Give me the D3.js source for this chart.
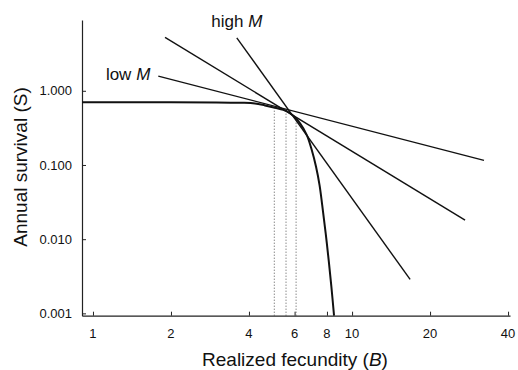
<!DOCTYPE html>
<html>
<head>
<meta charset="utf-8">
<script src="https://cdn.jsdelivr.net/npm/d3@7"></script>
<style>
  html, body { margin: 0; padding: 0; background: #fff; }
  svg { display: block; font-family: "Liberation Sans", Arial, Helvetica, sans-serif; }
</style>
</head>
<body>
<div id="chart"></div>
<script>
// curve S(B)
const curveB = [0.907, 2, 3, 3.7, 4.22, 4.61, 5.04, 5.59, 5.93, 6.30, 6.69, 6.99, 7.26, 7.49, 7.67, 7.99, 8.32, 8.52];
const curveS = [0.70, 0.70, 0.698, 0.69, 0.676, 0.635, 0.59, 0.532, 0.46, 0.364, 0.253, 0.159, 0.0946, 0.0536, 0.0288, 0.00885, 0.00229, 0.00093];

// straight lines (start/end points), shallow -> steep
const lineNames = ['low M', '', 'high M'];
const lineStartB = [1.787, 1.897, 3.59];
const lineStartS = [1.578, 5.24, 5.18];
const lineEndB = [32.3, 27.3, 16.75];
const lineEndS = [0.1153, 0.0181, 0.00287];

// tangent points, marked by dotted drops
const tangentB = [5.01, 5.56, 6.08];
const tangentS = [0.58, 0.52, 0.40];

const xTicks = [1, 2, 4, 6, 8, 10, 20, 40];
const yTicks = [0.001, 0.01, 0.1, 1];

const width = 518, height = 370;
const margin = { left: 82, right: 510, top: 20, bottom: 315.7 };

const svg = d3.select('#chart')
  .append('svg')
  .attr('width', width)
  .attr('height', height);

// Scales
const x = d3.scaleLog().domain([0.907, 40.7]).range([margin.left, margin.right]);
const y = d3.scaleLog().domain([0.00093, 9]).range([margin.bottom, margin.top]);

// Axes (ticks pointing inward)
const xAxis = svg.append('g')
  .attr('transform', `translate(0,${margin.bottom})`)
  .call(d3.axisTop(x).tickValues(xTicks).tickSize(4).tickSizeOuter(0).tickFormat(''));
const yAxis = svg.append('g')
  .attr('transform', `translate(${margin.left},0)`)
  .call(d3.axisRight(y).tickValues(yTicks).tickSize(4).tickSizeOuter(0).tickFormat(''));
[xAxis, yAxis].forEach(a => {
  a.select('.domain').attr('stroke', '#222').attr('stroke-width', 1.2);
  a.selectAll('.tick line').attr('stroke', '#222');
});

// Tick labels
svg.append('g').selectAll('text')
  .data(xTicks)
  .enter()
  .append('text')
  .attr('x', d => x(d))
  .attr('y', 338)
  .attr('text-anchor', 'middle')
  .attr('font-size', 13)
  .attr('fill', '#111')
  .text(d => d);

svg.append('g').selectAll('text')
  .data(yTicks)
  .enter()
  .append('text')
  .attr('x', margin.left - 10)
  .attr('y', d => y(d))
  .attr('dy', '0.35em')
  .attr('text-anchor', 'end')
  .attr('font-size', 13)
  .attr('fill', '#111')
  .text(d => d3.format('.3f')(d));

// Axis titles
const xTitle = svg.append('text')
  .attr('x', 295)
  .attr('y', 365.5)
  .attr('text-anchor', 'middle')
  .attr('font-size', 19)
  .attr('fill', '#111');
xTitle.append('tspan').text('Realized fecundity (');
xTitle.append('tspan').attr('font-style', 'italic').text('B');
xTitle.append('tspan').text(')');

svg.append('text')
  .attr('transform', 'translate(26.5,167) rotate(-90)')
  .attr('text-anchor', 'middle')
  .attr('font-size', 19)
  .attr('fill', '#111')
  .text('Annual survival (S)');

// Dotted drops to the axis
svg.append('g').selectAll('line')
  .data(tangentB)
  .enter()
  .append('line')
  .attr('x1', d => x(d))
  .attr('x2', d => x(d))
  .attr('y1', margin.bottom)
  .attr('y2', (d, i) => y(tangentS[i]))
  .attr('stroke', '#555')
  .attr('stroke-width', 1)
  .attr('stroke-dasharray', '1,2');

// Straight lines
svg.append('g').selectAll('line')
  .data(lineStartB)
  .enter()
  .append('line')
  .attr('x1', d => x(d))
  .attr('y1', (d, i) => y(lineStartS[i]))
  .attr('x2', (d, i) => x(lineEndB[i]))
  .attr('y2', (d, i) => y(lineEndS[i]))
  .attr('stroke', '#111')
  .attr('stroke-width', 1.4);

// Curve
const curveData = curveB.map((b, i) => ({ b, s: curveS[i] }));
const line = d3.line()
  .x(d => x(d.b))
  .y(d => y(d.s))
  .curve(d3.curveCatmullRom.alpha(0.5));

svg.append('path')
  .datum(curveData)
  .attr('fill', 'none')
  .attr('stroke', '#111')
  .attr('stroke-width', 2)
  .attr('d', line);

// Line labels
const labLow = svg.append('text')
  .attr('x', x(lineStartB[0]) - 8)
  .attr('y', y(lineStartS[0]) + 4)
  .attr('text-anchor', 'end')
  .attr('font-size', 17)
  .attr('fill', '#111');
labLow.append('tspan').text('low ');
labLow.append('tspan').attr('font-style', 'italic').text('M');

const labHigh = svg.append('text')
  .attr('x', x(lineStartB[2]))
  .attr('y', y(lineStartS[2]) - 11)
  .attr('text-anchor', 'middle')
  .attr('font-size', 17)
  .attr('fill', '#111');
labHigh.append('tspan').text('high ');
labHigh.append('tspan').attr('font-style', 'italic').text('M');
</script>
</body>
</html>
